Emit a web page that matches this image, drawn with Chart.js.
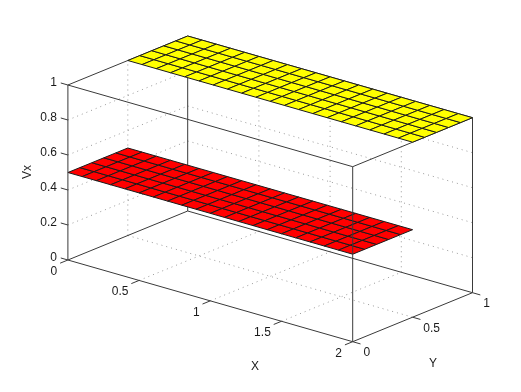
<!DOCTYPE html>
<html><head><meta charset="utf-8">
<script src="https://cdn.jsdelivr.net/npm/chart.js@4"></script>
<style>html,body{margin:0;padding:0;background:#fff}canvas{display:block}</style>
</head><body><canvas id="c" width="521" height="392"></canvas>
<script>
// Data
const xValues = [0,0.1,0.2,0.3,0.4,0.5,0.6,0.7,0.8,0.9,1,1.1,1.2,1.3,1.4,1.5,1.6,1.7,1.8,1.9,2];
const yLower = [0,0.1,0.2,0.3,0.4,0.5];
const yUpper = [0.5,0.6,0.7,0.8,0.9,1];
const vxLower = 0.5;
const vxUpper = 1;
const xTicks = [0,0.5,1,1.5,2];
const yTicks = [0,0.5,1];
const zTicks = [0,0.2,0.4,0.6,0.8,1];
const xTickLabels = ['0','0.5','1','1.5','2'];
const yTickLabels = ['0','0.5','1'];
const zTickLabels = ['0','0.2','0.4','0.6','0.8','1'];

// View: fixed 3D → screen projection
const ORIGIN = [67.9, 260];
const EX = [142.4, 40.85];
const EY = [119.8, -49];
const EZ = [0, -175];
const P = (x,y,z) => ({x: ORIGIN[0]+x*EX[0]+y*EY[0]+z*EZ[0], y: ORIGIN[1]+x*EX[1]+y*EY[1]+z*EZ[1]});

const AXIS = '#3a3a3a', GRID = '#999999', MESH = '#1a1a1a';
const seg = (a,b,color,dash) => ({
  data:[P(...a),P(...b)], showLine:true, pointRadius:0, borderColor:color, borderWidth:1,
  borderDash:dash||[], fill:false, tension:0, clip:false
});
const layers = [];
const dots = [1,4];
// Grids on floor and back walls
for (const x of xTicks.slice(1,-1)) {
  layers.push(seg([x,0,0],[x,1,0],GRID,dots));
  layers.push(seg([x,1,0],[x,1,1],GRID,dots));
}
for (const y of yTicks.slice(1,-1)) {
  layers.push(seg([0,y,0],[2,y,0],GRID,dots));
  layers.push(seg([0,y,0],[0,y,1],GRID,dots));
}
for (const z of zTicks.slice(1,-1)) {
  layers.push(seg([0,0,z],[0,1,z],GRID,dots));
  layers.push(seg([0,1,z],[2,1,z],GRID,dots));
}
// Back box
layers.push(seg([0,1,0],[0,1,1],AXIS));
layers.push(seg([0,1,0],[2,1,0],AXIS));
layers.push(seg([0,0,0],[0,1,0],AXIS));
layers.push(seg([2,0,1],[2,1,1],AXIS));
layers.push(seg([0,0,1],[0,1,1],AXIS));
layers.push(seg([0,0,1],[2,0,1],AXIS));
layers.push(seg([0,1,1],[2,1,1],AXIS));
// Surfaces
function surface(ys, z, color) {
  for (let i=0;i<xValues.length-1;i++) for (let j=0;j<ys.length-1;j++) {
    const a=xValues[i],b=xValues[i+1],c=ys[j],d=ys[j+1];
    layers.push({
      data:[P(a,c,z),P(b,c,z),P(b,d,z),P(a,d,z),P(a,c,z)],
      showLine:true, pointRadius:0, borderColor:MESH, borderWidth:1,
      backgroundColor:color, fill:'shape', tension:0, clip:false
    });
  }
}
surface(yLower, vxLower, '#ff0000');
surface(yUpper, vxUpper, '#ffff00');
// Front box, axes and ticks
layers.push(seg([2,0,0],[2,0,1],AXIS));
layers.push(seg([2,1,0],[2,1,1],AXIS));
layers.push(seg([0,0,0],[0,0,1],AXIS));
layers.push(seg([0,0,0],[2,0,0],AXIS));
layers.push(seg([2,0,0],[2,1,0],AXIS));
for (const z of zTicks) layers.push(seg([0,0,z],[-0.05,0,z],AXIS));
for (const x of xTicks) layers.push(seg([x,0,0],[x,-0.065,0],AXIS));
for (const y of yTicks) layers.push(seg([2,y,0],[2.055,y,0],AXIS));

const FONT = '12px "Liberation Sans", Arial, sans-serif';
const textPlugin = {
  id:'axisText',
  afterDraw(chart){
    const {ctx,scales:{x:sx,y:sy}} = chart;
    const put = (s,px,py,align,rot) => {
      ctx.save();
      ctx.translate(sx.getPixelForValue(px), sy.getPixelForValue(py));
      if (rot) ctx.rotate(rot);
      ctx.fillStyle='#1a1a1a';
      ctx.font=FONT;
      ctx.textAlign=align; ctx.textBaseline='middle';
      ctx.fillText(s,0,0);
      ctx.restore();
    };
    zTicks.forEach((z,i)=>{ const p=P(0,0,z); put(zTickLabels[i],p.x-11,p.y-2.5,'right'); });
    xTicks.forEach((x,i)=>{ const p=P(x,0,0); put(xTickLabels[i],p.x-10.7,p.y+11.7,'right'); });
    yTicks.forEach((y,i)=>{ const p=P(2,y,0); put(yTickLabels[i],p.x+10.7,p.y+11,'left'); });
    put('X',255,367,'center');
    put('Y',433,364,'center');
    put('Vx',28,172,'center',-Math.PI/2);
  }
};

new Chart(document.getElementById('c'),{
  type:'scatter',
  data:{datasets:layers.slice().reverse()},
  options:{
    responsive:false, animation:false, events:[],
    layout:{padding:0},
    plugins:{legend:{display:false},tooltip:{enabled:false},title:{display:false}},
    scales:{
      x:{type:'linear',min:0,max:521,display:false},
      y:{type:'linear',min:0,max:392,reverse:true,display:false}
    }
  },
  plugins:[textPlugin]
});
</script></body></html>
